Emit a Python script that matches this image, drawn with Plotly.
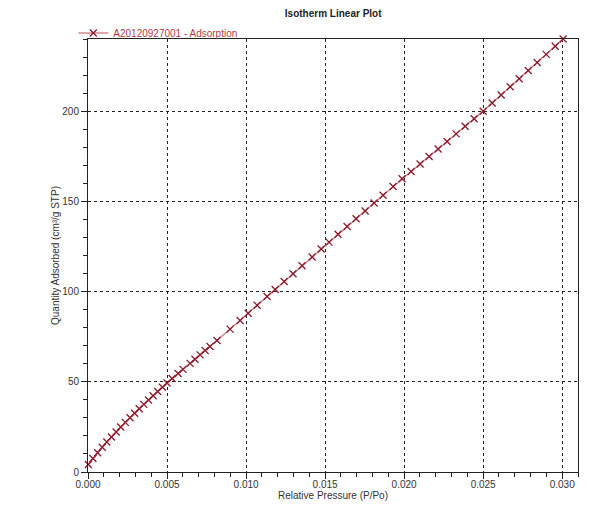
import plotly.graph_objects as go

# relative pressure (P/Po)
rel_pressure = [
    0.00002, 0.00031, 0.00061, 0.00090, 0.00119, 0.00148, 0.00178, 0.00207, 0.00236,
    0.00266, 0.00295, 0.00324, 0.00353, 0.00383, 0.00412, 0.00441, 0.00471, 0.00500,
    0.00532, 0.00570, 0.00601, 0.00646, 0.00677, 0.00709, 0.00741, 0.00772, 0.00816,
    0.00899, 0.00962, 0.01013, 0.01070, 0.01133, 0.01184, 0.01241, 0.01297, 0.01354,
    0.01418, 0.01475, 0.01525, 0.01582, 0.01639, 0.01696, 0.01753, 0.01810, 0.01867,
    0.01930, 0.01987, 0.02044, 0.02101, 0.02158, 0.02215, 0.02272, 0.02329, 0.02386,
    0.02443, 0.02500, 0.02557, 0.02614, 0.02671, 0.02728, 0.02785, 0.02842, 0.02899,
    0.02956, 0.03006,
]
# quantity adsorbed (cm3/g STP)
qty_adsorbed = [
    4.2, 7.5, 10.7, 13.7, 16.6, 19.4, 22.2, 24.9, 27.5,
    30.1, 32.6, 35.1, 37.5, 39.9, 42.3, 44.6, 47.0, 49.3,
    51.8, 54.6, 56.9, 60.2, 62.5, 64.9, 67.3, 69.6, 72.9,
    79.2, 84.0, 88.0, 92.4, 97.3, 101.2, 105.6, 109.9, 114.3,
    119.2, 123.6, 127.4, 131.8, 136.1, 140.4, 144.7, 149.1, 153.4,
    158.2, 162.5, 166.6, 170.7, 174.9, 179.0, 183.2, 187.4, 191.6,
    195.8, 200.0, 204.5, 209.0, 213.5, 218.0, 222.5, 227.0, 231.5,
    236.0, 240.0,
]
series_name = "A20120927001 - Adsorption"

fig = go.Figure()
fig.add_trace(go.Scatter(
    x=rel_pressure, y=qty_adsorbed, name=series_name,
    mode="lines+markers",
    line=dict(color="#cf8a90", width=1.5),
    marker=dict(symbol="x-thin", size=7, line=dict(color="#8b1a2c", width=1.3)),
    cliponaxis=False,
))

axis_common = dict(
    showline=True, linecolor="#222", linewidth=1, mirror=True,
    showgrid=True, gridcolor="#222", gridwidth=1, griddash="3px,3px",
    zeroline=False, ticks="outside", ticklen=6, tickcolor="#222",
    tickfont=dict(size=10, color="#333"),
)

fig.update_xaxes(
    range=[0, 0.031], dtick=0.005, tick0=0, tickformat=".3f",
    ticklabelstandoff=-3,
    title=dict(text="Relative Pressure (P/Po)", font=dict(size=10, color="#333"), standoff=0),
    minor=dict(dtick=0.001, ticks="outside", ticklen=4, tickcolor="#222", showgrid=False),
    **axis_common,
)
fig.update_yaxes(
    range=[0, 240], dtick=50, tick0=0,
    title=dict(text="Quantity Adsorbed (cm³/g STP)", font=dict(size=10, color="#333"), standoff=0),
    minor=dict(dtick=10, ticks="outside", ticklen=4, tickcolor="#222", showgrid=False),
    **axis_common,
)

fig.update_layout(
    width=600, height=529,
    margin=dict(l=80, r=30, t=31, b=65, autoexpand=False),
    paper_bgcolor="white", plot_bgcolor="white",
    font=dict(family="Liberation Sans, Arial, sans-serif"),
    title=dict(text="<b>Isotherm Linear Plot</b>", x=0.542, xanchor="center",
               y=0.99, yanchor="middle", font=dict(size=10, color="#222"),
               automargin=False),
    showlegend=True,
    legend=dict(x=-0.03, y=1.014, xanchor="left", yanchor="middle", bgcolor="rgba(0,0,0,0)",
                font=dict(size=10, color="#b03a48"), borderwidth=0,
                itemwidth=30, tracegroupgap=0),
)

fig.write_html("out.html")
